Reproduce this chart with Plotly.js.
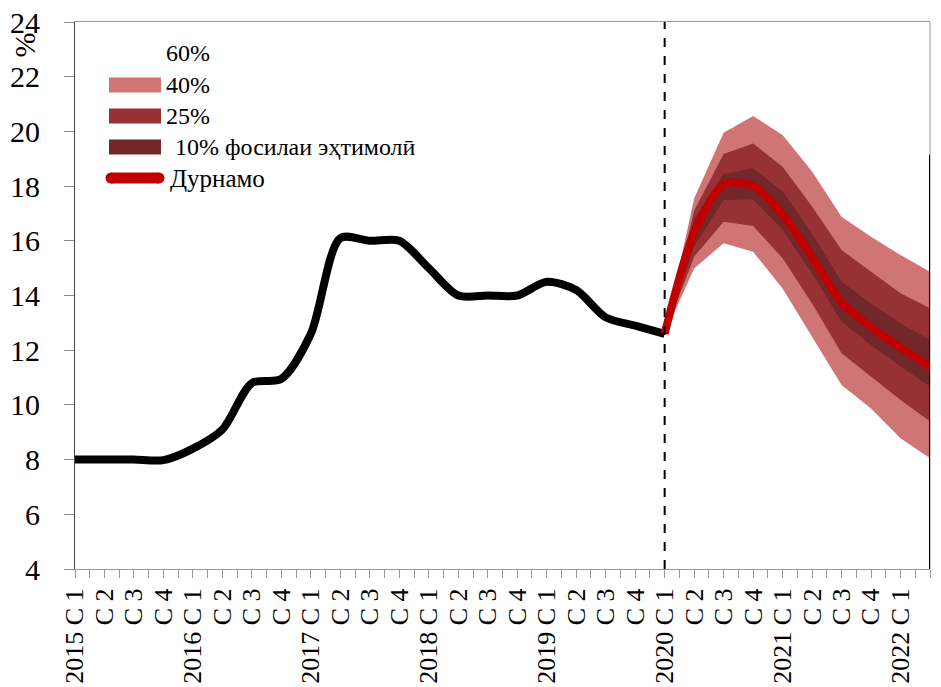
<!DOCTYPE html>
<html>
<head>
<meta charset="utf-8">
<script src="https://cdn.plot.ly/plotly-3.0.1.min.js"></script>
<style>
html,body{margin:0;padding:0;background:#fff;}
#chart text{font-family:'Liberation Serif', serif !important;}
</style>
</head>
<body>
<div id="chart" style="width:941px;height:687px;"></div>
<script>
// Quarter categories (С = семоҳа)
const categories = [
  '2015 С 1','С 2','С 3','С 4',
  '2016 С 1','С 2','С 3','С 4',
  '2017 С 1','С 2','С 3','С 4',
  '2018 С 1','С 2','С 3','С 4',
  '2019 С 1','С 2','С 3','С 4',
  '2020 С 1','С 2','С 3','С 4',
  '2021 С 1','С 2','С 3','С 4',
  '2022 С 1','С 2'
];
const forecastStart = '2020 С 1';

// Historical series (2015 С1 .. 2020 С1), %
const historical = [8.0, 8.0, 8.0, 7.98, 8.4, 9.1, 10.8, 10.95, 12.6, 16.1, 16.0, 16.0,
                    15.0, 14.0, 14.0, 14.0, 14.5, 14.2, 13.2, 12.9, 12.6];

// Forecast (2020 С1 .. 2022 С2), %
const forecast = [12.6, 16.3, 18.05, 18.0, 16.95, 15.4, 13.75, 12.85, 12.1, 11.4];

// Probability bands (2020 С1 .. 2022 С2)
const upper60 = [12.6, 17.55, 19.95, 20.56, 19.87, 18.53, 16.88, 16.15, 15.48, 14.87];
const lower60 = [12.6, 14.99, 15.91, 15.6, 14.26, 12.49, 10.73, 9.87, 8.78, 8.05];
const upper40 = [12.6, 17.55, 19.95, 20.56, 19.87, 18.53, 16.88, 16.15, 15.48, 14.87];
const lower40 = [12.6, 14.99, 15.91, 15.6, 14.26, 12.49, 10.73, 9.87, 8.78, 8.05];
const upper25 = [12.6, 17.1, 19.17, 19.56, 18.71, 17.25, 15.66, 14.87, 14.08, 13.53];
const lower25 = [12.6, 15.42, 16.7, 16.54, 15.36, 13.71, 11.89, 11.03, 10.18, 9.39];
const upper10 = [12.6, 16.8, 18.44, 18.65, 17.8, 16.27, 14.5, 13.71, 12.98, 12.37];
const lower10 = [12.6, 15.8, 17.49, 17.51, 16.4, 14.81, 13.04, 12.19, 11.4, 10.67];

const bandNames = ['60%', '40%', '25%', ' 10% фосилаи эҳтимолӣ'];
const bandColors = ['#ffffff', '#D07575', '#963235', '#72272A'];
const forecastName = 'Дурнамо';
const forecastColor = '#C00000';

const FONT = 'Liberation Serif';
const start = categories.indexOf(forecastStart);
const xAll = categories.map((_, i) => i);
const xHist = historical.map((_, i) => i);
const xFc = forecast.map((_, i) => i + start);

function band(upper, lower, name, color) {
  return {
    x: xFc.concat(xFc.slice().reverse()),
    y: upper.concat(lower.slice().reverse()),
    type: 'scatter', mode: 'lines', fill: 'toself',
    fillcolor: color, line: {width: 0, color: color},
    name: name, hoverinfo: 'skip', showlegend: false
  };
}

const traces = [
  band(upper60, lower60, bandNames[0], bandColors[0]),
  band(upper40, lower40, bandNames[1], bandColors[1]),
  band(upper25, lower25, bandNames[2], bandColors[2]),
  band(upper10, lower10, bandNames[3], bandColors[3]),
  {x: xHist, y: historical, type: 'scatter', mode: 'lines',
   line: {color: '#000', width: 8, shape: 'spline', smoothing: 0.8},
   showlegend: false, name: 'hist'},
  {x: xFc, y: forecast, type: 'scatter', mode: 'lines',
   line: {color: forecastColor, width: 8, shape: 'spline', smoothing: 0.8},
   name: forecastName, showlegend: false}
];

// Manual legend (pixel positions converted to paper coordinates)
const plotL = 75, plotW = 855, plotT = 22, plotH = 547;
const px = v => (v - plotL) / plotW;
const py = v => (plotT + plotH - v) / plotH;
const legendRowsY = [53, 85, 116, 147, 178];
const legendShapes = [];
const legendAnn = [];
bandNames.forEach((name, i) => {
  const yc = legendRowsY[i];
  legendShapes.push({type: 'rect', xref: 'paper', yref: 'paper',
    x0: px(109), x1: px(161), y0: py(yc - 7.5), y1: py(yc + 7.5),
    fillcolor: bandColors[i], line: {width: 0}});
  legendAnn.push({text: name, xref: 'paper', yref: 'paper', x: px(i === 3 ? 167 : 164), y: py(yc),
    xanchor: 'left', yanchor: 'middle', showarrow: false,
    font: {family: FONT, size: 24, color: '#000'}});
});
legendShapes.push({type: 'line', xref: 'paper', yref: 'paper',
  x0: px(111), x1: px(159), y0: py(legendRowsY[4]), y1: py(legendRowsY[4]),
  line: {color: forecastColor, width: 11}});
legendShapes.push({type: 'circle', xref: 'paper', yref: 'paper',
  x0: px(105.5), x1: px(116.5), y0: py(legendRowsY[4] - 5.5), y1: py(legendRowsY[4] + 5.5),
  fillcolor: forecastColor, line: {width: 0}});
legendShapes.push({type: 'circle', xref: 'paper', yref: 'paper',
  x0: px(153.5), x1: px(164.5), y0: py(legendRowsY[4] - 5.5), y1: py(legendRowsY[4] + 5.5),
  fillcolor: forecastColor, line: {width: 0}});
legendAnn.push({text: forecastName, xref: 'paper', yref: 'paper', x: px(168), y: py(legendRowsY[4]),
  xanchor: 'left', yanchor: 'middle', showarrow: false,
  font: {family: FONT, size: 25, color: '#000'}});

const layout = {
  width: 941, height: 687,
  margin: {l: 75, r: 11, t: 22, b: 118},
  paper_bgcolor: '#fff', plot_bgcolor: '#fff',
  font: {family: FONT, color: '#000'},
  showlegend: false,
  xaxis: {
    range: [0, 29], tickmode: 'array', tickvals: xAll, ticktext: categories,
    tickangle: -90, ticks: 'outside', ticklen: 8, tickcolor: '#999', tickwidth: 1,
    showline: true, linecolor: '#999', linewidth: 1, mirror: true,
    showgrid: false, zeroline: false,
    tickfont: {family: FONT, size: 26, color: '#000'},
    minor: {tickmode: 'linear', tick0: 0.5, dtick: 1, ticks: 'outside', ticklen: 8, tickcolor: '#999', showgrid: false}
  },
  yaxis: {
    range: [4, 24], dtick: 2, ticks: 'outside', ticklen: 10, tickcolor: '#888',
    showline: true, linecolor: '#444', linewidth: 1,
    showgrid: false, zeroline: false, ticklabelstandoff: 18,
    tickfont: {family: FONT, size: 30, color: '#000'}
  },
  shapes: [
    {type: 'line', xref: 'paper', yref: 'paper', x0: 1, x1: 1, y0: 0, y1: 1,
     line: {color: '#999', width: 1}},
    {type: 'line', xref: 'x', yref: 'paper', x0: start, x1: start, y0: 0, y1: 1,
     line: {color: '#000', width: 2, dash: 'dash'}},
    {type: 'line', xref: 'x', yref: 'y', x0: categories.length - 1, x1: categories.length - 1, y0: 4, y1: 19.15,
     line: {color: '#000', width: 2}}
  ].concat(legendShapes),
  annotations: [
    {text: '%', xref: 'paper', yref: 'paper', x: -0.058, y: 0.958, xanchor: 'center', yanchor: 'middle',
     textangle: -90, showarrow: false, font: {family: FONT, size: 30, color: '#000'}}
  ].concat(legendAnn)
};

Plotly.newPlot('chart', traces, layout, {displayModeBar: false});
</script>
</body>
</html>
